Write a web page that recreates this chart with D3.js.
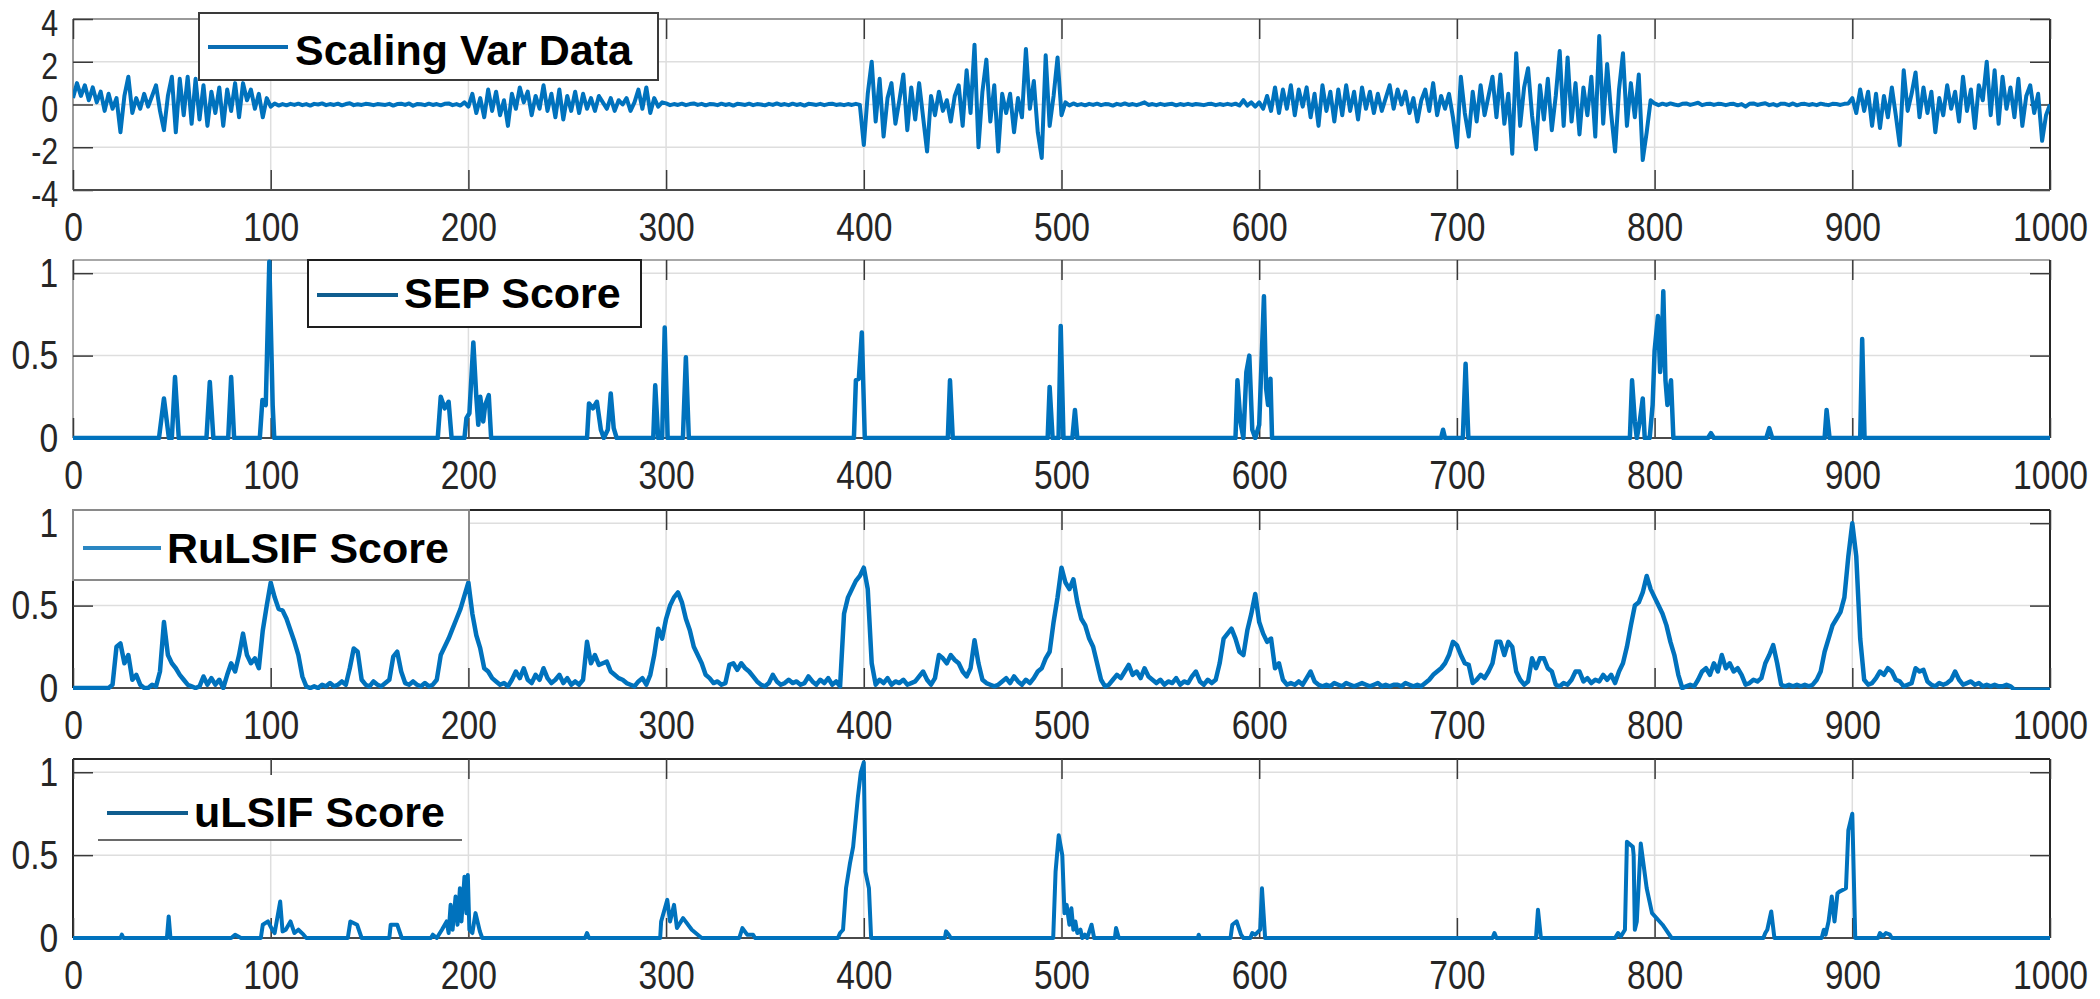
<!DOCTYPE html>
<html>
<head>
<meta charset="utf-8">
<script src="https://cdn.jsdelivr.net/npm/d3@7/dist/d3.min.js"></script>
<style>
  body { margin: 0; background: #fff; }
  svg { display: block; background: #fff; }
  .tick text { font-family: "Liberation Sans", Arial, sans-serif; font-size: 41px; fill: #262626; }
  .legend text { font-family: "Liberation Sans", Arial, sans-serif; font-weight: bold; font-size: 43px; fill: #000; }
</style>
</head>
<body>
<svg id="chart" width="2100" height="999"></svg>
<script>
// tick labels
var xTicks = [0, 100, 200, 300, 400, 500, 600, 700, 800, 900, 1000];
var varTicks = [-4, -2, 0, 2, 4];
var scoreTicks = [0, 0.5, 1];

// Scaling Var Data, one value every 2 samples (0..1000)
var varY = [
  0.3,1.0,0.4,0.9,0.2,0.8,0.1,0.6,-0.3,0.5, -0.2,0.3,-1.3,0.4,1.3,-0.4,0.3,-0.2,0.5,-0.1,
  0.4,0.9,-0.3,-1.2,0.4,1.3,-1.3,1.2,-0.5,1.3, -0.9,1.2,-0.7,0.9,-1.0,0.6,-0.4,0.8,-1.0,0.7,
  -0.3,1.0,-0.6,1.0,0.2,0.7,-0.2,0.5,-0.6,0.3,
  -0.1,0.05,-0.05,0.02,-0.04,0.03,-0.02,0.04,-0.03,0.02, -0.05,0.03,0,0.05,-0.03,0.02,-0.02,0.04,-0.04,0.02,
  0.06,-0.03,0.01,-0.02,0.03,0.01,-0.03,0.02,0,-0.02, 0.03,-0.05,0.02,0.04,-0.02,0.05,-0.06,0.02,0.01,-0.03,
  0.04,-0.02,0.02,-0.04,0.03,0.05,-0.03,0.02,-0.05,0.1,
  -0.1,0.5,-0.4,0.3,-0.6,0.7,-0.3,0.6,-0.5,0.2, -1.0,0.5,-0.2,0.8,0.1,0.6,-0.5,0.4,-0.2,0.9,
  -0.3,0.5,-0.6,0.7,-0.7,0.4,-0.3,0.6,-0.4,0.5, -0.2,0.3,-0.3,0.4,0.1,-0.2,0.3,-0.3,0.2,0.0,
  0.3,-0.3,0.1,0.7,-0.2,0.8,-0.4,0.3,-0.1,0.1,
  0.05,-0.03,0.02,-0.02,0.04,-0.03,0.02,0.05,-0.02,0.03, -0.04,0.02,0.01,-0.03,0.04,-0.02,0.02,-0.05,0.03,0.01,
  -0.02,0.04,-0.03,0.02,0,-0.04,0.03,-0.02,0.05,-0.02, 0.02,-0.03,0.04,-0.02,0.02,-0.05,0.03,0.01,-0.02,0.03,
  -0.03,0.02,0.04,-0.02,0.01,-0.03,0.02,-0.02,0.03,-0.02,
  -1.9,0.5,2.0,-0.8,1.2,-1.5,0.3,1.0,-0.9,0.2, 1.4,-1.2,0.8,-0.7,1.0,-0.6,-2.2,0.4,-0.5,0.6,
  -0.3,0.2,-0.8,0.4,0.9,-1.0,1.6,-0.4,2.8,-2.0, 0.6,2.1,-0.8,0.9,-2.2,0.5,-0.4,0.5,-1.3,0.3,
  -0.6,2.6,-0.2,1.1,-1.3,-2.5,2.3,-1.0,0.4,2.2,
  -0.5,0.1,-0.05,0.05,-0.03,0.02,-0.04,0.03,-0.02,0.04, -0.03,0.02,0.01,-0.05,0.03,-0.02,0.05,-0.02,0.02,-0.03,
  0.03,0.1,-0.02,0.02,-0.03,0.03,-0.02,0.01,0.03,-0.04, 0.02,-0.02,0.03,-0.02,0.02,0,-0.03,0.02,0.03,-0.03,
  0.02,-0.02,0.03,-0.02,0.04,-0.05,0.2,-0.05,0.1,-0.1,
  0.1,-0.2,0.4,-0.3,0.8,-0.4,0.7,-0.2,0.9,-0.5, 0.7,-0.1,0.8,-0.6,0.5,-1.0,0.9,-0.3,0.6,-0.8,
  0.7,-0.5,0.9,-0.3,0.6,-0.7,0.8,-0.2,0.6,-0.4, 0.5,-0.3,0.3,0.9,-0.2,0.7,0.0,0.6,-0.4,0.3,
  -0.8,0.2,0.7,-0.3,1.0,-0.5,0.4,-0.2,0.5,-0.6,
  -2.0,1.3,-0.4,-1.5,0.6,-0.8,0.9,-0.5,0.4,1.3, -0.6,1.4,-0.9,0.5,-2.3,2.4,-1.0,0.8,1.7,-0.5,
  -2.1,0.9,-0.7,1.2,-1.2,0.4,2.5,-1.0,2.2,-0.8, 1.0,-1.4,0.8,-0.5,1.3,-1.5,3.2,-0.9,1.9,-0.4,
  -2.2,0.7,2.4,-1.0,1.0,-0.6,1.4,-2.6,-1.3,0.2,
  0.05,-0.03,0.04,-0.02,0.05,0,-0.04,0.03,0.05,-0.02, 0.03,0.08,-0.03,0.02,0.04,-0.02,0.03,0.02,-0.03,0.02,
  0.03,-0.04,0.02,-0.1,0.03,0.05,-0.02,0.02,0.06,-0.03, 0.02,-0.05,0.04,0.03,-0.03,0.05,-0.04,0.02,0.03,-0.02,
  0.02,-0.03,0.04,0,-0.03,0.03,0.02,-0.02,0.03,0.05,
  0.3,-0.4,0.7,-0.3,0.6,-1.0,0.5,-1.1,0.4,-0.6, 0.8,-0.5,-1.9,1.6,-0.3,0.5,1.5,-0.6,0.8,-0.4,
  0.6,-1.3,0.3,-0.5,0.9,-0.2,0.6,-0.8,1.3,-0.3, 0.7,-1.1,0.9,0.2,2.0,-0.5,1.6,-0.9,1.3,-0.2,
  0.8,-0.6,1.2,-1.0,0.4,0.9,-0.4,0.5,-1.7,-0.5, 0.0
];

// SEP Score, vertices (sample, score)
var sepX = [0, 43.5,46,48.5, 50,51.6,53.5, 67.5,69.2,71, 78.5,80,81.5, 94.5,95.8,97.5,99.3,101,101.8,
  184.5,186,188,190,191.5, 198,199,200.5,202.5,204,205,206,207.5,208.5,210.3,211.5,
  260,261,263,265,267,268.5,270.5,272,273.5,275, 293.5,294.5,296,298,299.3,300.8, 308.5,310,311.5,
  395,396,397.5,399,400.5, 442.5,443.6,445, 493,494,495.5,498.5,499.6,501, 505.5,506.8,508,
  588,589,590.5,592,593.5,595,596.5,598,600,601.3,602.4,603.5,604.5,605.7,606.5,
  692,693,694, 703,704.4,705.8,
  787.5,788.6,790,791,792.5,794,795,797.5,799,800,801.7,802.8,803.5,804.4,805.5,806.5,808.3,809.5,
  827,828.5,830, 856.5,858,859.5, 886,887,888.5, 904,905,906.2, 1000];
var sepY = [0, 0,0.24,0, 0,0.37,0, 0,0.34,0, 0,0.37,0, 0,0.23,0.2,1.07,0.2,0,
  0,0.25,0.18,0.22,0, 0,0.12,0.15,0.58,0.25,0.08,0.25,0.1,0.2,0.26,0,
  0,0.21,0.18,0.22,0.05,0,0.05,0.27,0.06,0, 0,0.32,0,0,0.67,0, 0,0.49,0,
  0,0.35,0.36,0.64,0, 0,0.35,0, 0,0.31,0,0,0.68,0, 0,0.17,0,
  0,0.35,0.1,0,0.4,0.5,0.05,0,0.08,0.5,0.86,0.3,0.2,0.36,0,
  0,0.05,0, 0,0.45,0,
  0,0.35,0.1,0,0.1,0.24,0,0,0.2,0.53,0.74,0.4,0.5,0.89,0.35,0.2,0.35,0,
  0,0.03,0, 0,0.06,0, 0,0.17,0, 0,0.6,0, 0];

// RuLSIF Score, one value every 2 samples (0..1000)
var ruY = [
  0,0,0,0,0,0,0,0,0,0, 0.02,0.25,0.27,0.15,0.2,0.05,0.08,0.02,0,0,
  0.02,0.01,0.1,0.4,0.2,0.15,0.12,0.08,0.05,0.02, 0.01,0,0.01,0.07,0.02,0.06,0.02,0.05,0,0.08,
  0.15,0.1,0.2,0.33,0.2,0.15,0.18,0.12,0.35,0.5,
  0.64,0.55,0.48,0.47,0.42,0.35,0.28,0.2,0.07,0.01, 0,0.01,0,0.02,0.01,0.03,0.01,0.02,0.04,0.02,
  0.12,0.24,0.22,0.05,0.02,0.01,0.04,0.02,0.01,0.03, 0.05,0.19,0.22,0.1,0.03,0.02,0.04,0.02,0.01,0.03,
  0.01,0.02,0.05,0.2,0.25,0.3,0.36,0.42,0.48,0.56,
  0.64,0.45,0.32,0.24,0.12,0.1,0.06,0.04,0.02,0.03, 0.01,0.05,0.1,0.06,0.12,0.05,0.03,0.08,0.05,0.12,
  0.06,0.03,0.05,0.08,0.03,0.06,0.02,0.04,0.02,0.05, 0.28,0.15,0.2,0.14,0.15,0.16,0.1,0.08,0.06,0.05,
  0.03,0.02,0.01,0.04,0.06,0.02,0.08,0.2,0.36,0.3,
  0.42,0.5,0.55,0.58,0.52,0.42,0.35,0.25,0.2,0.15, 0.08,0.06,0.03,0.04,0.02,0.03,0.14,0.15,0.11,0.15,
  0.12,0.1,0.07,0.04,0.02,0.01,0.03,0.08,0.04,0.02, 0.03,0.05,0.03,0.04,0.02,0.03,0.07,0.04,0.02,0.05,
  0.03,0.06,0.02,0.04,0.01,0.45,0.55,0.6,0.65,0.68,
  0.73,0.6,0.15,0.02,0.05,0.03,0.06,0.02,0.04,0.03, 0.05,0.02,0.03,0.04,0.07,0.1,0.05,0.02,0.06,0.2,
  0.18,0.15,0.2,0.17,0.15,0.1,0.07,0.12,0.29,0.15, 0.05,0.03,0.02,0.01,0.02,0.04,0.06,0.03,0.07,0.04,
  0.02,0.05,0.03,0.06,0.1,0.12,0.18,0.22,0.4,0.55,
  0.73,0.64,0.6,0.66,0.52,0.42,0.38,0.3,0.25,0.15, 0.05,0.01,0.02,0.05,0.08,0.06,0.1,0.14,0.08,0.1,
  0.06,0.12,0.07,0.05,0.03,0.05,0.02,0.04,0.03,0.06, 0.02,0.04,0.03,0.07,0.1,0.04,0.02,0.05,0.03,0.05,
  0.15,0.3,0.33,0.36,0.3,0.22,0.2,0.35,0.45,0.57,
  0.4,0.33,0.28,0.3,0.12,0.15,0.05,0.02,0.03,0.02, 0.04,0.02,0.06,0.1,0.04,0.02,0.01,0.02,0.01,0.03,
  0.02,0.01,0.03,0.02,0.01,0.02,0.03,0.02,0.01,0.02, 0.03,0.01,0.02,0.01,0.02,0.02,0.01,0.03,0.02,0.01,
  0.02,0.01,0.03,0.05,0.08,0.1,0.12,0.15,0.2,0.28,
  0.26,0.2,0.15,0.14,0.03,0.05,0.08,0.06,0.1,0.15, 0.28,0.28,0.2,0.28,0.25,0.1,0.05,0.02,0.04,0.18,
  0.12,0.18,0.18,0.12,0.1,0.02,0.01,0.03,0.02,0.05, 0.1,0.1,0.04,0.06,0.03,0.05,0.04,0.08,0.05,0.08,
  0.03,0.1,0.15,0.25,0.38,0.5,0.52,0.58,0.68,0.6,
  0.55,0.5,0.45,0.38,0.28,0.2,0.08,0,0.01,0.02, 0.01,0.05,0.1,0.12,0.08,0.15,0.1,0.2,0.12,0.15,
  0.1,0.12,0.08,0.02,0.03,0.05,0.04,0.06,0.15,0.2, 0.26,0.15,0.02,0.01,0.02,0.01,0.02,0.01,0.02,0.01,
  0.02,0.05,0.1,0.22,0.3,0.38,0.42,0.46,0.55,0.8,
  1.0,0.8,0.3,0.05,0.02,0.03,0.06,0.1,0.08,0.12, 0.1,0.05,0.04,0.01,0.02,0.03,0.12,0.1,0.11,0.04,
  0.02,0.01,0.03,0.02,0.03,0.05,0.1,0.05,0.02,0.03, 0.04,0.02,0.03,0.01,0.02,0.01,0.02,0.01,0.01,0.02,
  0.01,-0.01,-0.01,-0.01,-0.01,-0.01,-0.01,-0.01,-0.01,-0.01, -0.01
];

// uLSIF Score, vertices (sample, score)
var ulX = [0, 24,24.7,25.5, 47.5,48.4,49.3, 80,82,85,
  95,96,98.6,100.8,102,104.8,106,107.6,110,112,114,116.6,118, 139,140.3,143.7,146, 160,160.7,164,166.3,
  181,182,184,186.6,189,190,191,192,193.5,194.5,195.7,196.5,198,199,199.7,200.5,202,203.6,205.8,207,
  259,260,261, 297,297.5,300.6,302,304,305.5,308.6,313,316,318, 337,338.6,341,344,345,
  386.9,388,389.5,391,393,394.6,397,398.5,400,400.8,402.6,403.7, 441,441.6,443,444,
  495.8,497,498.6,500.4,501.5,502.6,504,505,506,507,508,509.6,510.5,511.8,513,515.2,516.5, 527,527.6,529,
  569,569.4,570, 585.5,586.4,588.6,590.8,592, 595.5,596.5,598,600.5,601.4,603,
  718,719,720, 740,741,742.5, 780,781.5,783,785,786,789,789.4,790,791,793,796,798.7,804,808.6,
  855,856,857,859,860.6, 884.5,885.6,886.5,888,889.6,891,892.5,893.5,896.8,898,900,901.5,
  913,914,915.5,917,919,920, 1000];
var ulY = [0, 0,0.02,0, 0,0.13,0, 0,0.02,0,
  0,0.08,0.1,0.05,0.03,0.22,0.04,0.05,0.1,0.03,0.05,0.02,0, 0,0.1,0.08,0, 0,0.08,0.08,0,
  0,0.02,0,0.05,0.1,0.03,0.2,0.05,0.25,0.08,0.3,0.1,0.37,0.15,0.38,0.05,0.03,0.15,0.04,0,
  0,0.03,0, 0,0.1,0.23,0.1,0.2,0.06,0.12,0.05,0.02,0, 0,0.06,0.02,0.02,0,
  0,0.03,0.05,0.3,0.45,0.55,0.85,1.0,1.06,0.4,0.3,0, 0,0.04,0.02,0,
  0,0.4,0.62,0.5,0.15,0.2,0.08,0.18,0.05,0.1,0.03,0.05,0,0.02,0,0.08,0, 0,0.06,0,
  0,0.02,0, 0,0.08,0.1,0.02,0, 0,0.03,0.02,0.05,0.3,0,
  0,0.03,0, 0,0.17,0, 0,0.03,0.01,0.05,0.58,0.55,0.5,0.05,0.1,0.57,0.3,0.15,0.08,0,
  0,0.03,0.05,0.16,0, 0,0.05,0.02,0.1,0.25,0.1,0.27,0.28,0.3,0.65,0.75,0,
  0,0.03,0.01,0.03,0.02,0, 0];

var stepX = d3.range(0, 1001, 2);

var svg = d3.select("#chart");
var x = d3.scaleLinear().domain([0, 1000]).range([73, 2050]);

var panels = [
  {top: 19, bottom: 190, domain: [-4, 4], ticks: varTicks, xs: stepX, ys: varY, edge: "#9a9a9a",
   yFont: 37, yDy: "0.45em", width: 4,
   label: "Scaling Var Data", box: [199, 13, 459, 67], boxStroke: "#3a3a3a", sample: [208, 288, 47], textX: 295, textY: 65, sampleColor: "#0a6db3"},
  {top: 260, bottom: 438, domain: [0, 1.08], ticks: scoreTicks, xs: sepX, ys: sepY, edge: "#a8a8a8",
   yFont: 41, yDy: "0.32em", width: 4.5,
   label: "SEP Score", box: [308, 260, 333, 67], boxStroke: "#1e1e1e", sample: [317, 398, 295], textX: 404, textY: 308, sampleColor: "#0f5d8f"},
  {top: 510, bottom: 688, domain: [0, 1.08], ticks: scoreTicks, xs: stepX, ys: ruY, edge: "#262626",
   yFont: 41, yDy: "0.32em", width: 4.5,
   label: "RuLSIF Score", box: [73, 510, 396, 70], boxStroke: "#8a8a8a", sample: [83, 161, 548], textX: 167, textY: 563, sampleColor: "#2a86c2"},
  {top: 759, bottom: 938, domain: [0, 1.08], ticks: scoreTicks, xs: ulX, ys: ulY, edge: "#262626",
   yFont: 41, yDy: "0.32em", width: 4,
   label: "uLSIF Score", box: [98, 775, 364, 65], boxStroke: "none", sample: [107, 188, 813], textX: 194, textY: 827, sampleColor: "#0f5d8f"}
];

panels.forEach(function(p, k) {
  var y = d3.scaleLinear().domain(p.domain).range([p.bottom, p.top]);
  var g = svg.append("g");

  svg.append("clipPath").attr("id", "clip" + k)
    .append("rect")
    .attr("x", x(0)).attr("y", p.top - 2)
    .attr("width", x(1000) - x(0)).attr("height", p.bottom - p.top + 4);

  // grid
  g.append("g").selectAll("line").data(xTicks).enter().append("line")
    .attr("x1", function(d) { return x(d); }).attr("x2", function(d) { return x(d); })
    .attr("y1", p.top).attr("y2", p.bottom)
    .style("stroke", "#dedede").style("stroke-width", 1.5);
  g.append("g").selectAll("line").data(p.ticks).enter().append("line")
    .attr("x1", x(0)).attr("x2", x(1000))
    .attr("y1", function(d) { return y(d); }).attr("y2", function(d) { return y(d); })
    .style("stroke", "#dedede").style("stroke-width", 1.5);

  // box edges
  g.append("line").attr("x1", x(0)).attr("x2", x(1000)).attr("y1", p.top).attr("y2", p.top)
    .style("stroke", p.edge).style("stroke-width", 2);
  g.append("line").attr("x1", x(0)).attr("x2", x(0)).attr("y1", p.top).attr("y2", p.bottom)
    .style("stroke", p.edge).style("stroke-width", 2);
  g.append("line").attr("x1", x(1000)).attr("x2", x(1000)).attr("y1", p.top).attr("y2", p.bottom)
    .style("stroke", "#262626").style("stroke-width", 2);

  // axes, ticks pointing inward
  var bottomAxis = g.append("g").attr("transform", "translate(0," + p.bottom + ")")
    .call(d3.axisBottom(x).tickValues(xTicks).tickFormat(function(d) { return String(d); })
      .tickSizeInner(-20).tickSizeOuter(0).tickPadding(22));
  var topAxis = g.append("g").attr("transform", "translate(0," + p.top + ")")
    .call(d3.axisTop(x).tickValues(xTicks).tickFormat("").tickSizeInner(-20).tickSizeOuter(0));
  var leftAxis = g.append("g").attr("transform", "translate(" + x(0) + ",0)")
    .call(d3.axisLeft(y).tickValues(p.ticks).tickFormat(function(d) { return String(d); })
      .tickSizeInner(-20).tickSizeOuter(0).tickPadding(18));
  var rightAxis = g.append("g").attr("transform", "translate(" + x(1000) + ",0)")
    .call(d3.axisRight(y).tickValues(p.ticks).tickFormat("").tickSizeInner(-20).tickSizeOuter(0));

  [bottomAxis, topAxis, leftAxis, rightAxis].forEach(function(a) {
    a.select(".domain").remove();
    a.selectAll(".tick line").style("stroke", "#3a3a3a").style("stroke-width", 1.5);
  });
  bottomAxis.selectAll("text").attr("transform", "scale(0.82,1)");
  leftAxis.selectAll("text")
    .attr("transform", "scale(0.82,1)")
    .attr("dy", p.yDy)
    .style("font-size", p.yFont + "px");

  g.append("line").attr("x1", x(0)).attr("x2", x(1000)).attr("y1", p.bottom).attr("y2", p.bottom)
    .style("stroke", "#4a4a4a").style("stroke-width", 2);

  // series
  var line = d3.line()
    .x(function(d, i) { return x(p.xs[i]); })
    .y(function(d) { return y(d); });
  g.append("path").datum(p.ys)
    .attr("clip-path", "url(#clip" + k + ")")
    .attr("d", line)
    .style("fill", "none")
    .style("stroke", "#0072BD")
    .style("stroke-width", p.width)
    .style("stroke-linejoin", "round");

  // legend
  var lg = g.append("g").attr("class", "legend");
  lg.append("rect")
    .attr("x", p.box[0]).attr("y", p.box[1]).attr("width", p.box[2]).attr("height", p.box[3])
    .style("fill", "#fff").style("stroke", p.boxStroke).style("stroke-width", 2);
  if (k === 3) {
    lg.append("line").attr("x1", p.box[0]).attr("x2", p.box[0] + p.box[2])
      .attr("y1", p.box[1] + p.box[3]).attr("y2", p.box[1] + p.box[3])
      .style("stroke", "#6a6a6a").style("stroke-width", 2);
  }
  lg.append("line")
    .attr("x1", p.sample[0]).attr("x2", p.sample[1]).attr("y1", p.sample[2]).attr("y2", p.sample[2])
    .style("stroke", p.sampleColor).style("stroke-width", 4);
  lg.append("text").attr("x", p.textX).attr("y", p.textY).text(p.label);
});
</script>
</body>
</html>
